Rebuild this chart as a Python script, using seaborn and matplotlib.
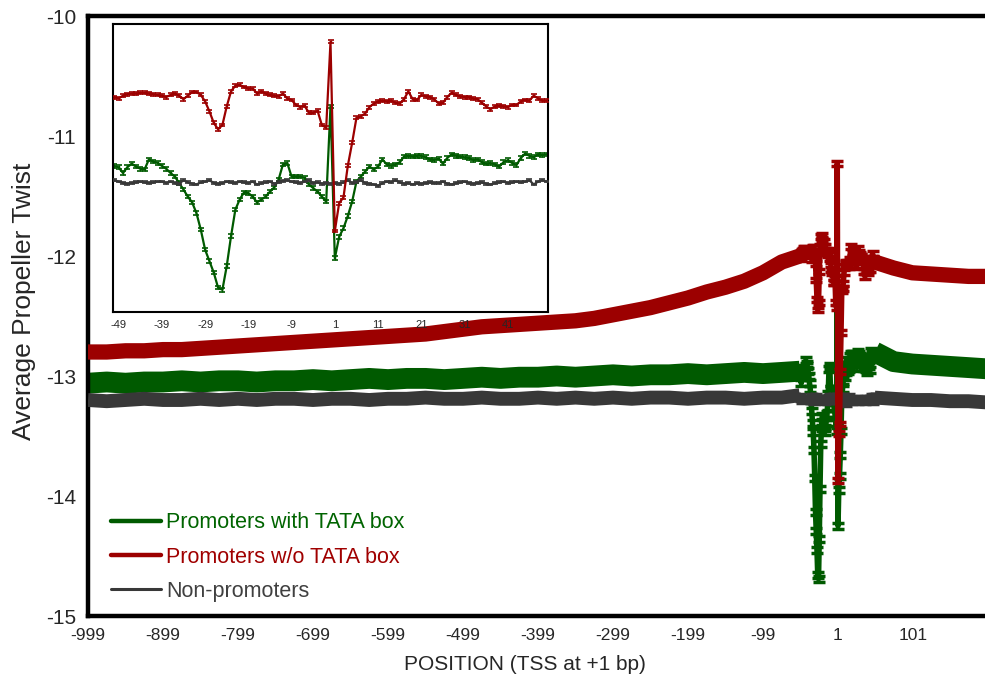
import numpy as np
import pandas as pd
import matplotlib
matplotlib.use("Agg")
import matplotlib.pyplot as plt
import seaborn as sns
from matplotlib.lines import Line2D

# ---------------- data ----------------
far_left_pos = list(range(-999, -50, 25))      # -999 ... -74
fine_pos = list(range(-50, 51))                # -50 ... 50 (1 bp)
far_right_pos = [75, 100, 125, 150, 175, 199]

red_far_left = [-12.80, -12.80, -12.79, -12.79, -12.78, -12.78, -12.77, -12.76, -12.75, -12.74,
                -12.73, -12.72, -12.71, -12.70, -12.69, -12.68, -12.67, -12.66, -12.65, -12.63,
                -12.61, -12.59, -12.58, -12.57, -12.56, -12.55, -12.54, -12.52, -12.49, -12.46,
                -12.43, -12.39, -12.35, -12.30, -12.26, -12.21, -12.14, -12.05]
red_fine = [-12.00, -12.02, -11.98, -11.96, -11.95, -11.95, -11.94, -11.94, -11.95, -11.96,
            -11.97, -11.98, -12.00, -11.97, -11.95, -11.98, -12.03, -11.98, -11.93, -11.93,
            -11.97, -12.06, -12.20, -12.36, -12.45, -12.39, -12.13, -11.92, -11.84, -11.83,
            -11.86, -11.88, -11.88, -11.95, -11.92, -11.95, -11.97, -11.98, -11.99, -11.95,
            -12.02, -12.04, -12.11, -12.14, -12.12, -12.22, -12.22, -12.19, -12.39, -12.43,
            -11.23,
            -13.87, -13.48, -13.40, -12.96, -12.64, -12.29, -12.27, -12.23, -12.14, -12.09,
            -12.06, -12.05, -12.06, -12.05, -12.08, -12.09, -12.03, -11.92, -12.03, -12.04,
            -11.97, -11.99, -12.00, -12.03, -12.09, -12.08, -12.00, -11.94, -11.97, -11.99,
            -12.00, -12.00, -12.02, -12.03, -12.08, -12.13, -12.17, -12.13, -12.12, -12.13,
            -12.14, -12.11, -12.11, -12.06, -12.04, -12.05, -11.98, -12.02, -12.05, -12.05]
red_far_right = [-12.10, -12.14, -12.15, -12.16, -12.17, -12.17]

green_far_left = [-13.06, -13.05, -13.06, -13.05, -13.05, -13.04, -13.05, -13.04, -13.04, -13.05,
                  -13.04, -13.04, -13.03, -13.04, -13.03, -13.02, -13.03, -13.02, -13.02, -13.03,
                  -13.02, -13.01, -13.02, -13.01, -13.01, -13.00, -13.01, -13.00, -12.99, -13.00,
                  -12.99, -12.99, -12.98, -12.99, -12.98, -12.97, -12.98, -12.97]
green_fine = [-12.96, -12.98, -13.06, -12.98, -12.93, -12.97, -13.00, -13.01, -12.87, -12.90,
              -12.92, -12.96, -13.00, -13.06, -13.11, -13.20, -13.29, -13.39, -13.47, -13.62,
              -13.85, -14.13, -14.29, -14.45, -14.66, -14.69, -14.36, -13.94, -13.57, -13.43,
              -13.33, -13.34, -13.39, -13.47, -13.43, -13.39, -13.32, -13.26, -13.15, -12.94,
              -12.92, -13.11, -13.11, -13.11, -13.13, -13.22, -13.27, -13.32, -13.39, -13.46,
              -12.13,
              -14.25, -13.95, -13.83, -13.66, -13.46, -13.18, -13.11, -13.04, -12.97, -13.01,
              -12.97, -12.87, -12.94, -12.96, -12.94, -12.91, -12.83, -12.82, -12.83, -12.82,
              -12.82, -12.84, -12.87, -12.88, -12.86, -12.93, -12.85, -12.80, -12.82, -12.83,
              -12.84, -12.85, -12.88, -12.87, -12.91, -12.93, -12.92, -12.94, -12.97, -12.91,
              -12.88, -12.92, -12.95, -12.85, -12.79, -12.82, -12.84, -12.80, -12.81, -12.80]
green_far_right = [-12.88, -12.90, -12.91, -12.92, -12.93, -12.94]

gray_far_left = [-13.20, -13.21, -13.20, -13.19, -13.20, -13.20, -13.19, -13.20, -13.19, -13.20,
                 -13.19, -13.19, -13.20, -13.19, -13.19, -13.20, -13.19, -13.19, -13.18, -13.19,
                 -13.19, -13.18, -13.19, -13.19, -13.18, -13.19, -13.18, -13.19, -13.18, -13.19,
                 -13.18, -13.18, -13.19, -13.18, -13.18, -13.19, -13.18, -13.18]
gray_fine = [-13.16, -13.18, -13.20, -13.21, -13.20, -13.19, -13.18, -13.19, -13.20, -13.19,
             -13.18, -13.18, -13.20, -13.18, -13.20, -13.21, -13.16, -13.19, -13.21, -13.22,
             -13.19, -13.18, -13.16, -13.20, -13.21, -13.20, -13.18, -13.19, -13.20, -13.18,
             -13.19, -13.20, -13.18, -13.22, -13.20, -13.19, -13.18, -13.21, -13.19, -13.17,
             -13.16, -13.18, -13.19, -13.20, -13.18, -13.16, -13.20, -13.19, -13.21, -13.20,
             -13.21,
             -13.20, -13.21, -13.19, -13.16, -13.20, -13.19, -13.16, -13.20, -13.21, -13.22,
             -13.24, -13.20, -13.18, -13.19, -13.16, -13.19, -13.21, -13.20, -13.22, -13.20,
             -13.21, -13.20, -13.19, -13.20, -13.20, -13.18, -13.21, -13.22, -13.20, -13.19,
             -13.18, -13.20, -13.21, -13.20, -13.19, -13.21, -13.22, -13.20, -13.19, -13.18,
             -13.20, -13.19, -13.18, -13.19, -13.18, -13.16, -13.22, -13.18, -13.16, -13.18]
gray_far_right = [-13.19, -13.20, -13.20, -13.21, -13.21, -13.22]

# standard errors (approx., read from error-bar sizes)
err_tata = 0.025
err_notata = 0.02
err_nonprom = 0.012

labels = ["Promoters with TATA box", "Promoters w/o TATA box", "Non-promoters"]
x_ticks = [-999, -899, -799, -699, -599, -499, -399, -299, -199, -99, 1, 101]
y_ticks = [-15, -14, -13, -12, -11, -10]
inset_ticks = [-49, -39, -29, -19, -9, 1, 11, 21, 31, 41]

# ---------------- style ----------------
sns.set_style("white")
plt.rcParams["font.family"] = ["Liberation Sans", "DejaVu Sans"]
plt.rcParams["axes.unicode_minus"] = False

c_green = "#005a00"
c_red = "#9c0000"
c_gray = "#383838"

series = [
    ("tata", green_far_left, green_fine, green_far_right, c_green, err_tata, 15, 2),
    ("nonprom", gray_far_left, gray_fine, gray_far_right, c_gray, err_nonprom, 10, 3),
    ("notata", red_far_left, red_fine, red_far_right, c_red, err_notata, 11, 4),
]

fig = plt.figure(figsize=(9.85, 6.93), dpi=100)
ax = fig.add_axes([88 / 985, 77 / 693, 897 / 985, 600 / 693])
ax.set_zorder(1)

for name, fl, fn, fr, col, err, band_lw, z in series:
    df = pd.DataFrame({"pos": far_left_pos + fine_pos + far_right_pos,
                       "val": fl + fn + fr})
    left = df[df.pos <= -50]
    right = df[df.pos >= 50]
    fine = df[(df.pos >= -50) & (df.pos <= 50)]
    sns.lineplot(data=left, x="pos", y="val", ax=ax, color=col, lw=band_lw,
                 solid_capstyle="butt", zorder=z, legend=False)
    sns.lineplot(data=right, x="pos", y="val", ax=ax, color=col, lw=band_lw,
                 solid_capstyle="butt", zorder=z, legend=False)
    sns.lineplot(data=fine, x="pos", y="val", ax=ax, color=col, lw=4,
                 zorder=z, legend=False)
    ax.errorbar(fine.pos, fine.val, yerr=err, fmt="none", ecolor=col,
                elinewidth=1.5, capsize=4.5, capthick=2.5, zorder=z)

ax.set_xlim(-999, 197)
ax.set_ylim(-15, -10)
ax.set_xticks(x_ticks)
ax.set_xticklabels([str(t) for t in x_ticks])
ax.set_yticks(y_ticks)
ax.set_yticklabels([str(t) for t in y_ticks])
ax.tick_params(axis="x", direction="inout", length=13, width=2.5, labelsize=12.5, pad=2, color="black")
ax.tick_params(axis="y", direction="inout", length=15, width=3.5, labelsize=15, pad=1, color="black")
for s in ["left", "bottom", "top"]:
    ax.spines[s].set_linewidth(3.2)
    ax.spines[s].set_color("black")
ax.spines["right"].set_visible(False)
ax.set_xlabel("POSITION (TSS at +1 bp)", fontsize=15)
ax.set_ylabel("Average Propeller Twist", fontsize=19)
ax.xaxis.set_label_coords(0.487, -0.065)
ax.yaxis.set_label_coords(-0.058, 0.525)

handles = [Line2D([0], [0], color=c_green, lw=3.2),
           Line2D([0], [0], color=c_red, lw=3.2),
           Line2D([0], [0], color=c_gray, lw=2.2)]
ax.legend(handles, labels, loc="lower left", bbox_to_anchor=(111 / 985, 1 - 602 / 693),
          bbox_transform=fig.transFigure, frameon=False, fontsize=15.5,
          handlelength=2.3, handletextpad=0.25, labelspacing=0.62, borderpad=0,
          borderaxespad=0, labelcolor=["#006400", "#a00000", "#404040"])

# ---------------- inset ----------------
ins = fig.add_axes([113 / 985, 1 - 312 / 693, 435 / 985, 288 / 693])
ins.set_zorder(5)
ins.set_facecolor("white")
for name, fl, fn, fr, col, err, band_lw, z in series:
    dfi = pd.DataFrame({"pos": fine_pos, "val": fn})
    sns.lineplot(data=dfi, x="pos", y="val", ax=ins, color=col, lw=1.6,
                 zorder=z, legend=False)
    ins.errorbar(dfi.pos, dfi.val, yerr=err, fmt="none", ecolor=col,
                 elinewidth=1.0, capsize=2.2, capthick=1.2, zorder=z)
ins.set_xlim(-50.3, 50.3)
ins.set_ylim(-15.0, -10.98)
ins.set_yticks([])
ins.set_xticks(inset_ticks)
ins.set_xticklabels([str(t) for t in inset_ticks])
ins.tick_params(axis="x", direction="inout", length=7, width=1.5, labelsize=8, pad=2, color="black")
ins.set_xlabel("")
ins.set_ylabel("")
for s in ins.spines.values():
    s.set_linewidth(1.5)
    s.set_color("black")

fig.savefig("out.png", dpi=100)
